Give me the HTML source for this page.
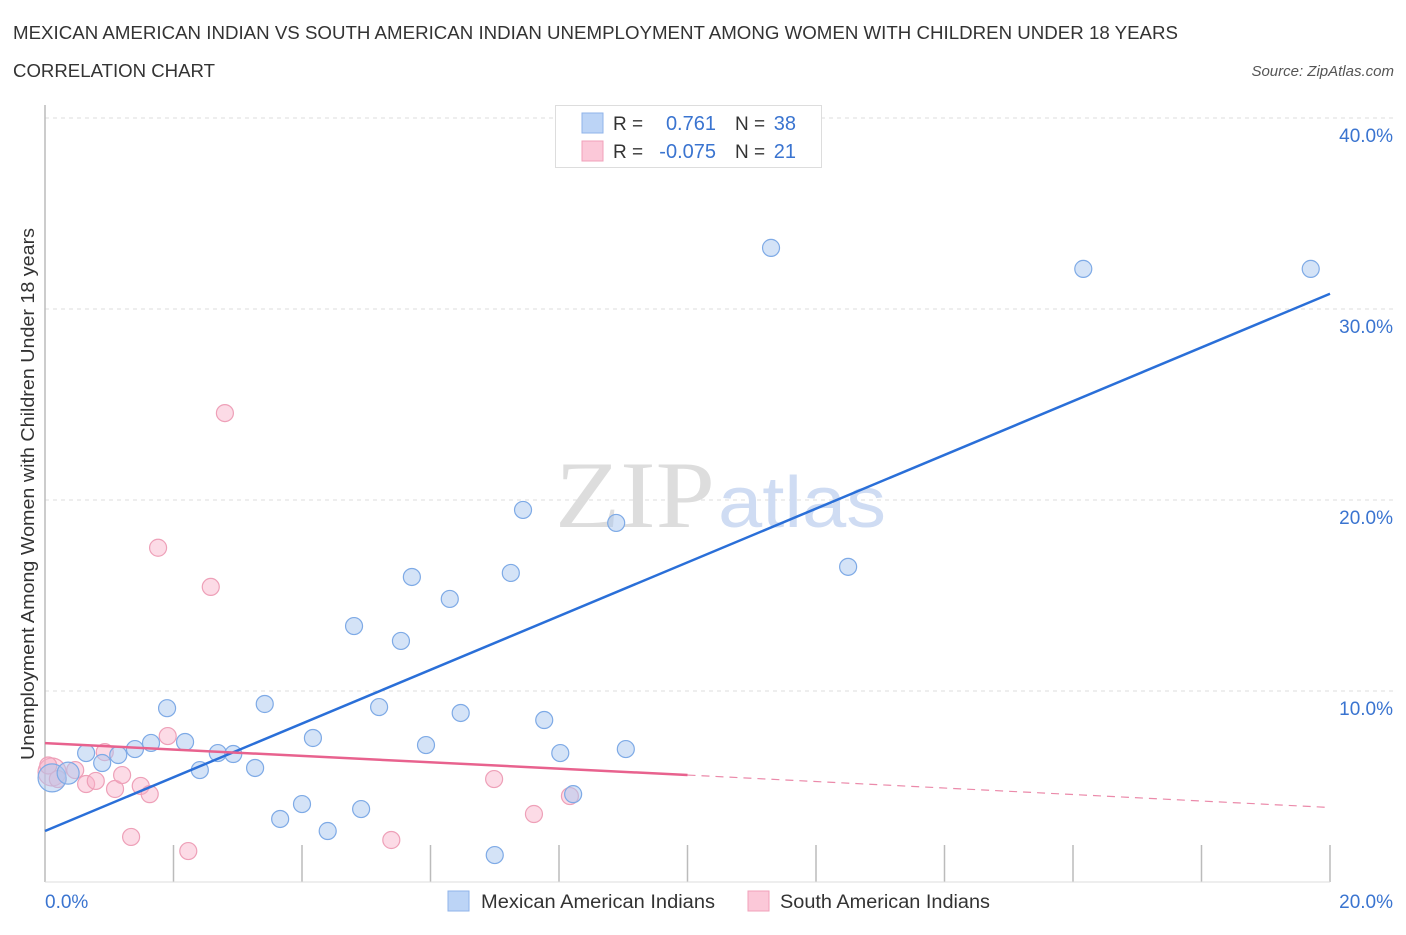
<!DOCTYPE html>
<html><head><meta charset="utf-8"><style>
body{margin:0;background:#fff;font-family:"Liberation Sans",sans-serif;}
svg text{font-family:"Liberation Sans",sans-serif;}
</style></head><body>
<svg width="1406" height="930" xmlns="http://www.w3.org/2000/svg" id="chart">
<text x="13" y="39" font-size="18" fill="#333" textLength="1165" lengthAdjust="spacingAndGlyphs">MEXICAN AMERICAN INDIAN VS SOUTH AMERICAN INDIAN UNEMPLOYMENT AMONG WOMEN WITH CHILDREN UNDER 18 YEARS</text>
<text x="13" y="77" font-size="18" fill="#333" textLength="202" lengthAdjust="spacingAndGlyphs">CORRELATION CHART</text>
<text x="1394" y="76" font-size="15" fill="#555" font-style="italic" text-anchor="end">Source: ZipAtlas.com</text>
<g id="grid"></g>
<line x1="45" y1="105" x2="45" y2="882" stroke="#bbb" stroke-width="1.5"/>
<g id="xticks"></g>
<text x="555" y="527" font-size="95" fill="#ddd" textLength="160" lengthAdjust="spacingAndGlyphs" style="font-family:'Liberation Serif',serif">ZIP</text>
<text x="718" y="527" font-size="72" fill="#cfdcf3" textLength="168" lengthAdjust="spacingAndGlyphs">atlas</text>
<text transform="translate(34,494) rotate(-90)" font-size="18" fill="#333" text-anchor="middle" textLength="532" lengthAdjust="spacingAndGlyphs">Unemployment Among Women with Children Under 18 years</text>
<text x="45" y="908" font-size="19" fill="#3a74d0">0.0%</text>
<text x="1393" y="908" font-size="19" fill="#3a74d0" text-anchor="end">20.0%</text>
<g id="points"></g>
<g id="lines"></g>
<g>
<rect x="555.5" y="105.5" width="266" height="62" fill="#fff" stroke="#ddd"/>
<rect x="582" y="113" width="21" height="20" fill="#bcd4f6" stroke="#8fb3ea"/>
<rect x="582" y="141" width="21" height="20" fill="#fbc8d8" stroke="#f0a0ba"/>
<text x="613" y="130" font-size="19" fill="#333">R = </text>
<text x="716" y="130" font-size="20" fill="#3a74d0" text-anchor="end">0.761</text>
<text x="735" y="130" font-size="19" fill="#333">N = </text>
<text x="796" y="130" font-size="20" fill="#3a74d0" text-anchor="end">38</text>
<text x="613" y="158" font-size="19" fill="#333">R = </text>
<text x="716" y="158" font-size="20" fill="#3a74d0" text-anchor="end">-0.075</text>
<text x="735" y="158" font-size="19" fill="#333">N = </text>
<text x="796" y="158" font-size="20" fill="#3a74d0" text-anchor="end">21</text>
</g>
<g>
<rect x="448" y="891" width="21" height="20" fill="#bcd4f6" stroke="#8fb3ea"/>
<text x="481" y="908" font-size="19" fill="#333" textLength="234" lengthAdjust="spacingAndGlyphs">Mexican American Indians</text>
<rect x="748" y="891" width="21" height="20" fill="#fbc8d8" stroke="#f0a0ba"/>
<text x="780" y="908" font-size="19" fill="#333" textLength="210" lengthAdjust="spacingAndGlyphs">South American Indians</text>
</g>
</svg>
<script>
const yTicks=[10,20,30,40];
const yTickLabels=["10.0%","20.0%","30.0%","40.0%"];
const blueX=[0.11,0.36,0.64,0.89,1.14,1.4,1.65,1.9,2.18,2.41,2.69,2.93,3.27,3.42,3.66,4.0,4.17,4.4,4.81,4.92,5.2,5.54,5.71,5.93,6.3,6.47,7.0,7.25,7.44,7.77,8.02,8.22,8.89,9.04,11.3,12.5,16.16,19.7];
const blueY=[5.45,5.7,6.75,6.23,6.65,6.96,7.28,9.1,7.33,5.86,6.75,6.7,5.97,9.32,3.3,4.08,7.54,2.67,13.4,3.82,9.16,12.62,15.97,7.17,14.82,8.85,1.41,16.18,19.48,8.48,6.75,4.6,18.8,6.96,33.2,16.5,32.1,32.1];
const pinkX=[0.11,0.2,0.47,0.64,0.79,0.93,1.09,1.2,1.34,1.49,1.63,1.76,1.91,2.23,2.58,2.8,5.39,6.99,7.61,8.17,0.05];
const pinkY=[5.76,5.39,5.86,5.13,5.29,6.8,4.87,5.6,2.36,5.03,4.6,17.5,7.64,1.62,15.45,24.55,2.2,5.39,3.56,4.5,6.1];
const blueTrend=[[0,2.67],[20,30.8]];
const pinkTrend=[[0,7.27],[10,5.6],[20,3.9]];
const NS="http://www.w3.org/2000/svg";
const sx=v=>45+v/20*1285, sy=v=>882-v*19.1;
function mk(t,a,p){const e=document.createElementNS(NS,t);for(const k in a)e.setAttribute(k,a[k]);p.appendChild(e);return e;}
const grid=document.getElementById('grid');
yTicks.forEach((t,i)=>{
 const l=mk('line',{x1:45,x2:1394,y1:sy(t),y2:sy(t),stroke:'#ddd','stroke-dasharray':'4,4'},grid);
 
 
 const tx=mk('text',{x:1393,y:sy(t)+24,'font-size':19,fill:'#3a74d0','text-anchor':'end'},grid);
 tx.textContent=yTickLabels[i];
 
 
});
const xt=document.getElementById('xticks');
for(let i=1;i<=10;i++){const l=mk('line',{x1:sx(i*2),x2:sx(i*2),y1:845,y2:882,stroke:'#bbb','stroke-width':1.5},xt);
 
 }
mk('line',{x1:45,x2:1330,y1:882,y2:882,stroke:'#ddd'},xt);
const pts=document.getElementById('points');


pinkX.forEach((x,i)=>{const c=mk('circle',{cx:sx(x),cy:sy(pinkY[i]),r:i==0?14:8.5,fill:'rgba(248,175,199,0.45)',stroke:'#eea0b8','stroke-width':1.2},pts);
 
 });
blueX.forEach((x,i)=>{const c=mk('circle',{cx:sx(x),cy:sy(blueY[i]),r:i==0?14:(i==1?11:8.5),fill:'rgba(170,200,240,0.5)',stroke:'#7eaae6','stroke-width':1.2},pts);
 
 });
const ln=document.getElementById('lines');
const b=mk('line',{x1:sx(blueTrend[0][0]),y1:sy(blueTrend[0][1]),x2:sx(blueTrend[1][0]),y2:sy(blueTrend[1][1]),stroke:'#2a6fd8','stroke-width':2.5},ln);


const p1=mk('line',{x1:sx(pinkTrend[0][0]),y1:sy(pinkTrend[0][1]),x2:sx(pinkTrend[1][0]),y2:sy(pinkTrend[1][1]),stroke:'#e8628e','stroke-width':2.5},ln);


const p2=mk('line',{x1:sx(pinkTrend[1][0]),y1:sy(pinkTrend[1][1]),x2:sx(pinkTrend[2][0]),y2:sy(pinkTrend[2][1]),stroke:'#eb8aaa','stroke-width':1.2,'stroke-dasharray':'8,6'},ln);


</script>
</body></html>
